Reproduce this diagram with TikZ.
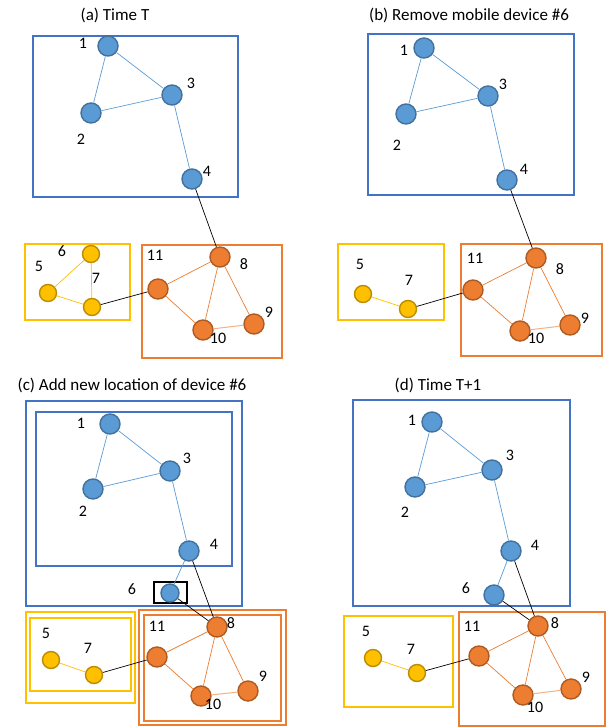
\documentclass[tikz,border=0pt]{standalone}
\usepackage{fontspec}
\setmainfont{Carlito}
\definecolor{bluef}{HTML}{5B9BD5}
\definecolor{blued}{HTML}{41719C}
\definecolor{boxblue}{HTML}{4472C4}
\definecolor{orf}{HTML}{ED7D31}
\definecolor{ord}{HTML}{AE5A21}
\definecolor{orl}{HTML}{F4B183}
\definecolor{yef}{HTML}{FFC000}
\definecolor{yed}{HTML}{BC8C00}
\tikzset{
  bn/.style={circle, fill=bluef, draw=blued, line width=1.4pt, minimum size=20pt, inner sep=0pt},
  bns/.style={bn, minimum size=18pt},
  yn/.style={circle, fill=yef, draw=yed, line width=1.4pt, minimum size=17pt, inner sep=0pt},
  on/.style={circle, fill=orf, draw=ord, line width=1.4pt, minimum size=20pt, inner sep=0pt},
  lbl/.style={font=\fontsize{16}{16}\selectfont, inner sep=0pt},
  ttl/.style={font=\fontsize{17}{18}\selectfont, inner sep=0pt},
  bbox/.style={draw=boxblue, line width=2pt},
  ybox/.style={draw=yef, line width=2pt},
  obox/.style={draw=orf, line width=2pt},
  kbox/.style={draw=black, line width=2pt},
  be/.style={draw=bluef, line width=0.7pt},
  ye/.style={draw=yef, line width=0.7pt},
  oe/.style={draw=orf, line width=0.7pt},
  oel/.style={draw=orl, line width=1pt},
  ke/.style={draw=black, line width=0.7pt},
}
\begin{document}
\begin{tikzpicture}[x=1pt,y=-1pt]
\useasboundingbox (0,0) rectangle (613,727);
\fill[white] (0,0) rectangle (613,727);

% ---------------- (a) ----------------
\node[ttl] (ta) at (115,15) {(a) Time T};
\draw[bbox] (33,36) rectangle (238,197);
\draw[ybox] (25,244) rectangle (130,320);
\draw[obox] (142,245) rectangle (282,358);
\node[bn] (a1) at (108,46) {};
\node[bn] (a2) at (91,113) {};
\node[bn] (a3) at (172,95) {};
\node[bn] (a4) at (192,179) {};
\node[yn] (a6) at (91,254) {};
\node[yn] (a5) at (48,293) {};
\node[yn] (a7) at (92,307) {};
\node[on] (a8) at (220,257) {};
\node[on] (a11) at (158,289) {};
\node[on] (a9) at (254,324) {};
\node[on] (a10) at (203,330) {};
\draw[be] (a1) -- (a2); \draw[be] (a1) -- (a3); \draw[be] (a2) -- (a3); \draw[be] (a3) -- (a4);
\draw[ke] (a4) -- (a8); \draw[ke] (a7) -- (a11);
\draw[ye] (a6) -- (a5); \draw[ye] (a6) -- (a7); \draw[ye] (a5) -- (a7);
\draw[oe] (a11) -- (a8); \draw[oe] (a11) -- (a10); \draw[oe] (a8) -- (a10); \draw[oe] (a8) -- (a9); \draw[oel] (a10) -- (a9);
\node[lbl] (la1) at (83,43) {1};
\node[lbl] (la2) at (81,139) {2};
\node[lbl] (la3) at (191,83) {3};
\node[lbl] (la4) at (207,171) {4};
\node[lbl] (la6) at (62,251) {6};
\node[lbl] (la5) at (39,266) {5};
\node[lbl] (la7) at (96,278) {7};
\node[lbl] (la8) at (244,264) {8};
\node[lbl] (la11) at (155,255) {11};
\node[lbl] (la9) at (269,312) {9};
\node[lbl] (la10) at (218,338) {10};

% ---------------- (b) ----------------
\node[ttl] (tb) at (469,15) {(b) Remove mobile device \#6};
\draw[bbox] (368,34) rectangle (574,195);
\draw[ybox] (338,244) rectangle (444,320);
\draw[obox] (461,244) rectangle (602,356);
\node[bn] (b1) at (424,48) {};
\node[bn] (b2) at (406,114) {};
\node[bn] (b3) at (488,96) {};
\node[bn] (b4) at (507,180) {};
\node[yn] (b5) at (363,294) {};
\node[yn] (b7) at (408,309) {};
\node[on] (b8) at (536,258) {};
\node[on] (b11) at (473,290) {};
\node[on] (b9) at (570,325) {};
\node[on] (b10) at (520,331) {};
\draw[be] (b1) -- (b2); \draw[be] (b1) -- (b3); \draw[be] (b2) -- (b3); \draw[be] (b3) -- (b4);
\draw[ke] (b4) -- (b8); \draw[ke] (b7) -- (b11);
\draw[ye] (b5) -- (b7);
\draw[oe] (b11) -- (b8); \draw[oe] (b11) -- (b10); \draw[oe] (b8) -- (b10); \draw[oe] (b8) -- (b9); \draw[oel] (b10) -- (b9);
\node[lbl] (lb1) at (404,50) {1};
\node[lbl] (lb2) at (397,145) {2};
\node[lbl] (lb3) at (503,84) {3};
\node[lbl] (lb4) at (524,169) {4};
\node[lbl] (lb5) at (360,264) {5};
\node[lbl] (lb7) at (409,280) {7};
\node[lbl] (lb8) at (560,269) {8};
\node[lbl] (lb11) at (475,258) {11};
\node[lbl] (lb9) at (585,318) {9};
\node[lbl] (lb10) at (536,338) {10};

% ---------------- (c) ----------------
\node[ttl] (tc) at (132,385) {(c) Add new location of device \#6};
\draw[bbox] (26,401) rectangle (242,606);
\draw[bbox] (36,412) rectangle (232,566);
\draw[kbox] (154,582) rectangle (187,603);
\draw[ybox] (26,612) rectangle (135,703);
\draw[ybox] (30,618) rectangle (131,691);
\draw[obox] (139,610) rectangle (286,725);
\draw[obox, line width=1.5pt] (144,615) rectangle (281,721);
\node[bn] (c1) at (110,424) {};
\node[bn] (c2) at (93,489) {};
\node[bn] (c3) at (170,471) {};
\node[bn] (c4) at (189,551) {};
\node[bns] (c6) at (170,593) {};
\node[yn] (c5) at (51,660) {};
\node[yn] (c7) at (94,675) {};
\node[on] (c8) at (217,627) {};
\node[on] (c11) at (157,657) {};
\node[on] (c9) at (248,691) {};
\node[on] (c10) at (201,696) {};
\draw[be] (c1) -- (c2); \draw[be] (c1) -- (c3); \draw[be] (c2) -- (c3); \draw[be] (c3) -- (c4); \draw[be] (c4) -- (c6);
\draw[ke] (c4) -- (c8); \draw[ke] (c6) -- (c8); \draw[ke] (c7) -- (c11);
\draw[ye] (c5) -- (c7);
\draw[oe] (c11) -- (c8); \draw[oe] (c11) -- (c10); \draw[oe] (c8) -- (c10); \draw[oe] (c8) -- (c9); \draw[oel] (c10) -- (c9);
\node[lbl] (lc1) at (81,423) {1};
\node[lbl] (lc2) at (83,511) {2};
\node[lbl] (lc3) at (187,458) {3};
\node[lbl] (lc4) at (214,544) {4};
\node[lbl] (lc6) at (132,589) {6};
\node[lbl] (lc5) at (46,633) {5};
\node[lbl] (lc7) at (88,648) {7};
\node[lbl] (lc8) at (231,623) {8};
\node[lbl] (lc11) at (157,626) {11};
\node[lbl] (lc9) at (263,676) {9};
\node[lbl] (lc10) at (213,704) {10};

% ---------------- (d) ----------------
\node[ttl] (td) at (438,385) {(d) Time T+1};
\draw[bbox] (353,400) rectangle (570,606);
\draw[ybox] (344,616) rectangle (453,707);
\draw[obox] (459,612) rectangle (605,726);
\node[bn] (d1) at (432,422) {};
\node[bn] (d2) at (415,487) {};
\node[bn] (d3) at (492,470) {};
\node[bn] (d4) at (511,551) {};
\node[bn] (d6) at (494,595) {};
\node[yn] (d5) at (373,658) {};
\node[yn] (d7) at (417,673) {};
\node[on] (d8) at (538,626) {};
\node[on] (d11) at (479,656) {};
\node[on] (d9) at (571,689) {};
\node[on] (d10) at (523,695) {};
\draw[be] (d1) -- (d2); \draw[be] (d1) -- (d3); \draw[be] (d2) -- (d3); \draw[be] (d3) -- (d4); \draw[be] (d4) -- (d6);
\draw[ke] (d4) -- (d8); \draw[ke] (d6) -- (d8); \draw[ke] (d7) -- (d11);
\draw[ye] (d5) -- (d7);
\draw[oe] (d11) -- (d8); \draw[oe] (d11) -- (d10); \draw[oe] (d8) -- (d10); \draw[oe] (d8) -- (d9); \draw[oel] (d10) -- (d9);
\node[lbl] (ld1) at (412,420) {1};
\node[lbl] (ld2) at (405,512) {2};
\node[lbl] (ld3) at (510,455) {3};
\node[lbl] (ld4) at (535,545) {4};
\node[lbl] (ld6) at (466,588) {6};
\node[lbl] (ld5) at (366,631) {5};
\node[lbl] (ld7) at (411,649) {7};
\node[lbl] (ld8) at (555,623) {8};
\node[lbl] (ld11) at (472,626) {11};
\node[lbl] (ld9) at (586,677) {9};
\node[lbl] (ld10) at (535,707) {10};
\end{tikzpicture}
\end{document}
